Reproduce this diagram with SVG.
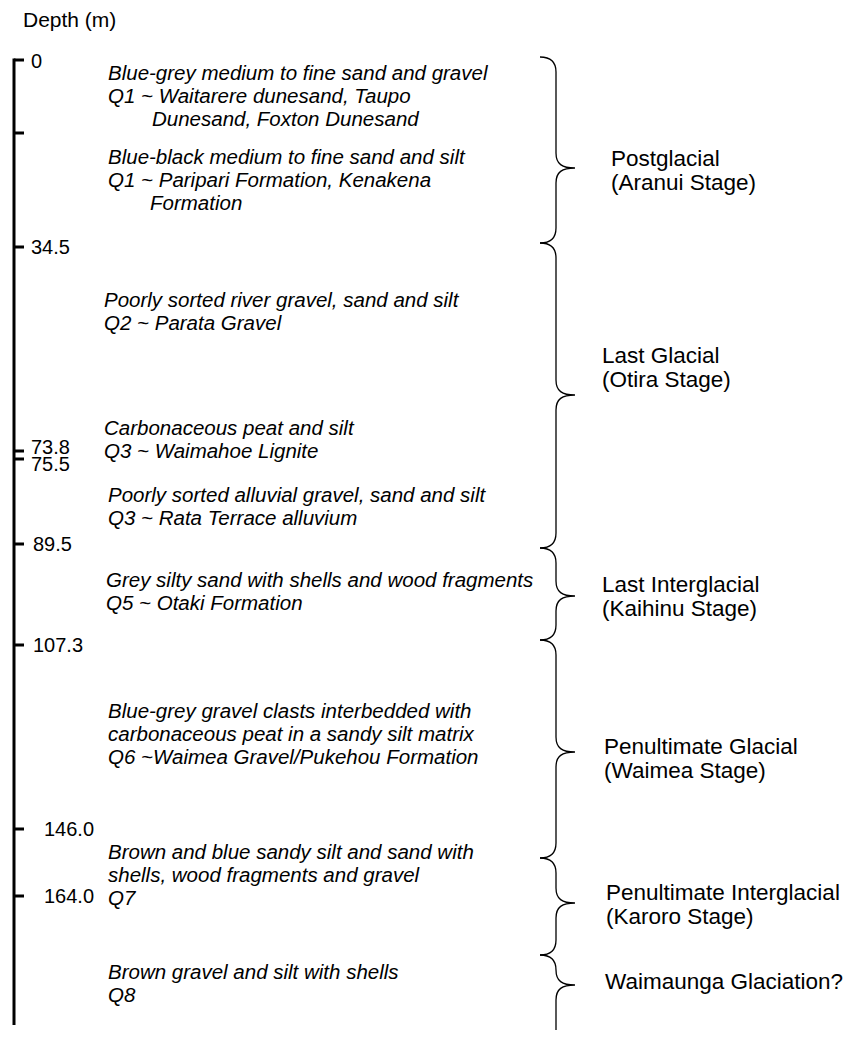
<svg xmlns="http://www.w3.org/2000/svg" width="854" height="1052" viewBox="0 0 854 1052">
<style>
.ax{stroke:#000;stroke-width:3;fill:none}
.br{stroke:#000;stroke-width:1.3;fill:none}
.h{font-family:"Liberation Sans",Arial,sans-serif;font-size:21px;fill:#000}
.d{font-family:"Liberation Sans",Arial,sans-serif;font-size:20px;fill:#000}
.u{font-family:"Liberation Sans",Arial,sans-serif;font-size:20.5px;font-style:italic;fill:#000}
.s{font-family:"Liberation Sans",Arial,sans-serif;font-size:22.5px;fill:#000}
</style>
<rect width="854" height="1052" fill="#fff"/>
<text class="h" x="23" y="27">Depth (m)</text>
<g id="axis">
<path class="ax" d="M14,58.5 V1025"/>
<path class="ax" d="M14,60 H24 M14,133 H24 M14,247 H24 M14,451 H24 M14,459 H24 M14,544 H24 M14,645 H24 M14,829 H24 M14,896 H24"/>
<text class="d" x="31" y="68">0</text>
<text class="d" x="31" y="254">34.5</text>
<text class="d" x="31" y="454">73.8</text>
<text class="d" x="31" y="471">75.5</text>
<text class="d" x="33" y="551">89.5</text>
<text class="d" x="33" y="652">107.3</text>
<text class="d" x="44" y="836">146.0</text>
<text class="d" x="44" y="903">164.0</text>
</g>
<g id="units">
<text class="u" x="108" y="80">Blue-grey medium to fine sand and gravel</text>
<text class="u" x="108" y="103">Q1 ~ Waitarere dunesand, Taupo</text>
<text class="u" x="152" y="126">Dunesand, Foxton Dunesand</text>
<text class="u" x="108" y="164">Blue-black medium to fine sand and silt</text>
<text class="u" x="108" y="187">Q1 ~ Paripari Formation, Kenakena</text>
<text class="u" x="150" y="210">Formation</text>
<text class="u" x="104" y="307">Poorly sorted river gravel, sand and silt</text>
<text class="u" x="104" y="330">Q2 ~ Parata Gravel</text>
<text class="u" x="104" y="435">Carbonaceous peat and silt</text>
<text class="u" x="104" y="458">Q3 ~ Waimahoe Lignite</text>
<text class="u" x="108" y="502">Poorly sorted alluvial gravel, sand and silt</text>
<text class="u" x="108" y="525">Q3 ~ Rata Terrace alluvium</text>
<text class="u" x="106" y="587">Grey silty sand with shells and wood fragments</text>
<text class="u" x="106" y="610">Q5 ~ Otaki Formation</text>
<text class="u" x="108" y="718">Blue-grey gravel clasts interbedded with</text>
<text class="u" x="108" y="741">carbonaceous peat in a sandy silt matrix</text>
<text class="u" x="108" y="764">Q6 ~Waimea Gravel/Pukehou Formation</text>
<text class="u" x="108" y="859">Brown and blue sandy silt and sand with</text>
<text class="u" x="108" y="882">shells, wood fragments and gravel</text>
<text class="u" x="108" y="905">Q7</text>
<text class="u" x="108" y="979">Brown gravel and silt with shells</text>
<text class="u" x="108" y="1002">Q8</text>
</g>
<g id="braces">
<path class="br" d="M540,57 C552,57 556,63 556,72 L556,153 C556,164 562,168 575,168 C562,168 556,172 556,183 L556,228 C556,237 552,243 540,243"/>
<path class="br" d="M540,243 C552,243 556,249 556,258 L556,380 C556,391 562,395 575,395 C562,395 556,399 556,410 L556,533 C556,542 552,548 540,548"/>
<path class="br" d="M540,548 C552,548 556,554 556,563 L556,581 C556,592 562,596 575,596 C562,596 556,600 556,611 L556,625 C556,634 552,640 540,640"/>
<path class="br" d="M540,640 C552,640 556,646 556,655 L556,737 C556,748 562,752 575,752 C562,752 556,756 556,767 L556,843 C556,852 552,858 540,858"/>
<path class="br" d="M540,858 C552,858 556,864 556,873 L556,888 C556,899 562,903 575,903 C562,903 556,907 556,918 L556,940 C556,949 552,955 540,955"/>
<path class="br" d="M540,955 C552,955 556,961 556,970 L556,970 C556,981 562,985 575,985 C562,985 556,989 556,1000 L556,1030"/>
</g>
<g id="stages">
<text class="s" x="611" y="166">Postglacial</text>
<text class="s" x="611" y="190">(Aranui Stage)</text>
<text class="s" x="602" y="363">Last Glacial</text>
<text class="s" x="602" y="387">(Otira Stage)</text>
<text class="s" x="602" y="592">Last Interglacial</text>
<text class="s" x="602" y="616">(Kaihinu Stage)</text>
<text class="s" x="604" y="754">Penultimate Glacial</text>
<text class="s" x="604" y="778">(Waimea Stage)</text>
<text class="s" x="606" y="900">Penultimate Interglacial</text>
<text class="s" x="606" y="924">(Karoro Stage)</text>
<text class="s" x="605" y="989">Waimaunga Glaciation?</text>
</g>
</svg>
